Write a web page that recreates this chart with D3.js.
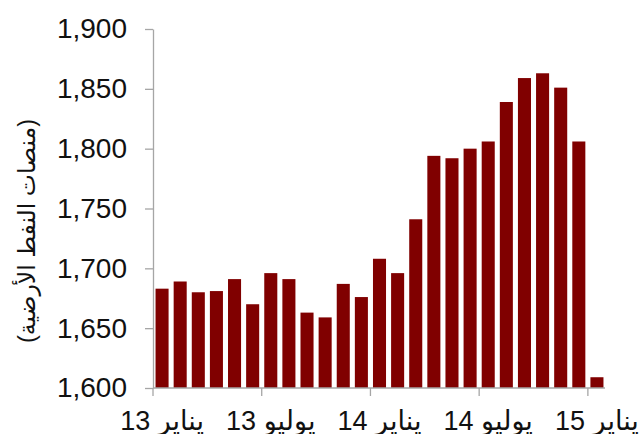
<!DOCTYPE html>
<html>
<head>
<meta charset="utf-8">
<script src="https://cdn.jsdelivr.net/npm/d3@7"></script>
<style>
  body { margin: 0; background: #fff; }
  svg text { font-family: "Liberation Sans", Arial, "DejaVu Sans", sans-serif; fill: #111; }
</style>
</head>
<body>
<script>
'use strict';

var width = 641, height = 434;

// monthly rig counts, Jan 2013 .. Jan 2015
var months = ["2013-01","2013-02","2013-03","2013-04","2013-05","2013-06",
  "2013-07","2013-08","2013-09","2013-10","2013-11","2013-12",
  "2014-01","2014-02","2014-03","2014-04","2014-05","2014-06",
  "2014-07","2014-08","2014-09","2014-10","2014-11","2014-12","2015-01"];
var rigs = [1683, 1689, 1680, 1681, 1691, 1670, 1696, 1691, 1663, 1659, 1687, 1676,
  1708, 1696, 1741, 1794, 1792, 1800, 1806, 1839, 1859, 1863, 1851, 1806, 1609];
var yTicks = [1600, 1650, 1700, 1750, 1800, 1850, 1900];
var xLabelMonths = ["2013-01", "2013-07", "2014-01", "2014-07", "2015-01"];
var xLabels = ["يناير 13", "يوليو 13", "يناير 14", "يوليو 14", "يناير 15"];
var yTitle = "(منصات النفط الأرضية)";

var svg = d3.select("body").append("svg")
  .attr("width", width)
  .attr("height", height);

var plotLeft = 153, plotRight = 606, plotTop = 29, plotBottom = 388;

var x = d3.scaleBand()
  .domain(months)
  .range([plotLeft, plotRight])
  .paddingInner(0.28)
  .paddingOuter(0.14);

var y = d3.scaleLinear()
  .domain([1600, 1900])
  .range([plotBottom, plotTop]);

// bars
svg.append("g").selectAll("rect")
  .data(months)
  .enter()
  .append("rect")
  .attr("x", function(d) { return x(d); })
  .attr("width", x.bandwidth())
  .attr("y", function(d, i) { return y(rigs[i]); })
  .attr("height", function(d, i) { return plotBottom - y(rigs[i]); })
  .attr("fill", "#800000");

// y axis
var yAxis = svg.append("g")
  .attr("transform", "translate(" + plotLeft + ",0)")
  .call(d3.axisLeft(y)
    .tickValues(yTicks)
    .tickSize(8)
    .tickSizeOuter(0)
    .tickPadding(18)
    .tickFormat(d3.format(",")));
yAxis.select(".domain").attr("stroke", "#a6a6a6").attr("stroke-width", 1.3);
yAxis.selectAll(".tick line").attr("stroke", "#a6a6a6").attr("stroke-width", 1.3);
yAxis.selectAll(".tick text")
  .attr("font-size", 28)
  .attr("fill", "#111")
  .style("font-family", "'Liberation Sans', Arial, sans-serif");

// x axis: ticks on month boundaries every 6 months
var step = x.step();
var xb = function(m) { return x(m) - x.paddingOuter() * step; };
var xAxis = svg.append("g")
  .attr("transform", "translate(0," + plotBottom + ")");
xAxis.append("line")
  .attr("x1", plotLeft).attr("x2", plotRight - 1)
  .attr("stroke", "#a6a6a6").attr("stroke-width", 1.3);
xAxis.selectAll(".xtick")
  .data(xLabelMonths)
  .enter()
  .append("line")
  .attr("class", "xtick")
  .attr("x1", function(d) { return xb(d); })
  .attr("x2", function(d) { return xb(d); })
  .attr("y1", 0).attr("y2", 8)
  .attr("stroke", "#a6a6a6").attr("stroke-width", 1.3);
xAxis.selectAll(".xlabel")
  .data(xLabelMonths)
  .enter()
  .append("text")
  .attr("class", "xlabel")
  .attr("x", function(d) { return x(d) + x.bandwidth() / 2; })
  .attr("y", 42)
  .attr("direction", "rtl")
  .attr("text-anchor", "middle")
  .attr("font-size", 27)
  .text(function(d, i) { return xLabels[i]; });

// y title
svg.append("text")
  .attr("transform", "translate(35,231) rotate(-90)")
  .attr("text-anchor", "middle")
  .attr("direction", "rtl")
  .attr("font-size", 23.5)
  .text(yTitle);
</script>
</body>
</html>
